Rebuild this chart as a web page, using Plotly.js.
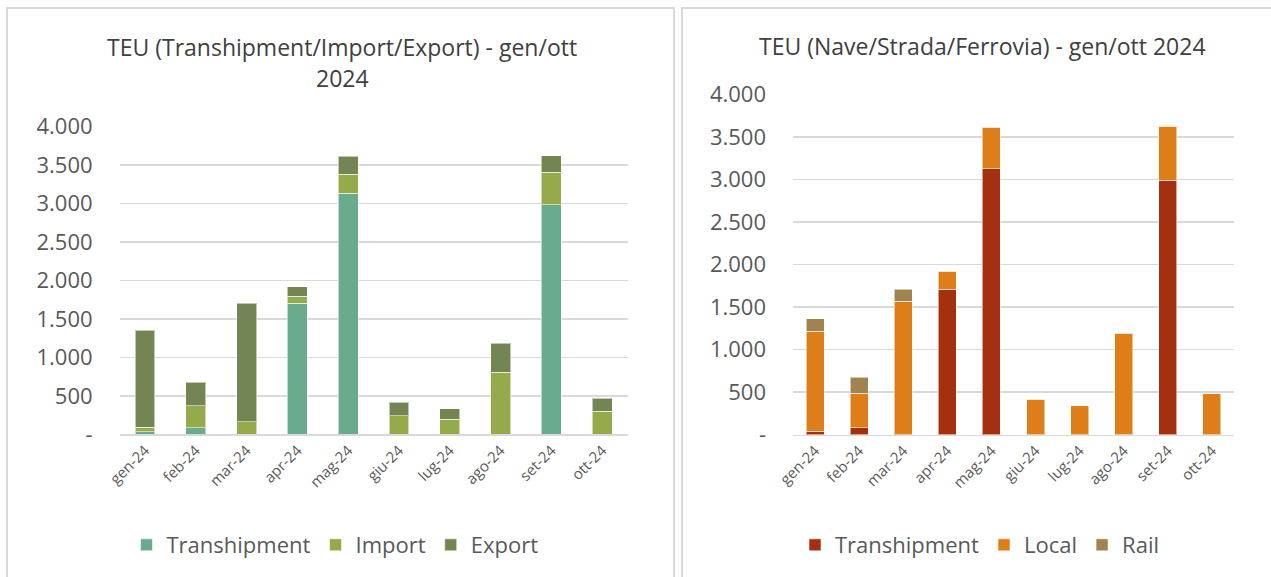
<!DOCTYPE html>
<html>
<head>
<meta charset="utf-8">
<script src="https://cdn.plot.ly/plotly-3.0.1.min.js"></script>
<style>
html,body{margin:0;padding:0;background:#fff;}
#chart{width:1271px;height:577px;}
</style>
</head>
<body>
<div id="chart"></div>
<script>
// ---- data ----
const months = ["gen-24","feb-24","mar-24","apr-24","mag-24","giu-24","lug-24","ago-24","set-24","ott-24"];

// Left chart: Transhipment / Import / Export
const leftTranshipment = [35, 87, 0, 1703, 3133, 0, 0, 0, 2985, 0];
const leftImport       = [56, 286, 160, 95, 247, 238, 195, 806, 421, 303];
const leftExport       = [1265, 303, 1547, 122, 234, 178, 139, 377, 216, 169];

// Right chart: Transhipment / Local / Rail
const rightTranshipment = [39, 82, 0, 1712, 3127, 0, 0, 0, 2989, 0];
const rightLocal        = [1179, 404, 1571, 212, 489, 419, 341, 1191, 639, 482];
const rightRail         = [142, 192, 137, 0, 0, 0, 0, 0, 0, 0];

const yTickVals = [0, 500, 1000, 1500, 2000, 2500, 3000, 3500, 4000];
const yTickText = ["-", "500", "1.000", "1.500", "2.000", "2.500", "3.000", "3.500", "4.000"];

const leftTitle1 = "TEU (Transhipment/Import/Export) - gen/ott";
const leftTitle2 = "2024";
const rightTitle = "TEU (Nave/Strada/Ferrovia) - gen/ott 2024";

// ---- layout helpers ----
const W = 1271, H = 577;
const px = x => x / W;
const py = y => 1 - y / H;
const FONT = "Open Sans, Noto Sans, sans-serif";
const GREY = "#595959";
const segLine = {color: "rgba(255,255,255,0.55)", width: 1};

function bar(name, y, color, xa, ya, legend, w) {
  return {
    type: "bar", name: name, x: months, y: y,
    xaxis: xa, yaxis: ya, legend: legend, width: w,
    marker: {color: color, line: segLine},
    hoverinfo: "x+y+name"
  };
}

const traces = [
  bar("Transhipment", leftTranshipment, "#6AAB8E", "x", "y", "legend", 0.39),
  bar("Import", leftImport, "#94AA4B", "x", "y", "legend", 0.39),
  bar("Export", leftExport, "#728552", "x", "y", "legend", 0.39),
  bar("Transhipment", rightTranshipment, "#A5300F", "x2", "y2", "legend2", 0.41),
  bar("Local", rightLocal, "#DE7E18", "x2", "y2", "legend2", 0.41),
  bar("Rail", rightRail, "#A0834F", "x2", "y2", "legend2", 0.41)
];

function xAxis(d0, d1, anchor) {
  return {
    domain: [px(d0), px(d1)], anchor: anchor,
    type: "category", tickangle: -45,
    tickfont: {family: FONT, size: 15, color: GREY},
    showgrid: false, zeroline: false, showline: true,
    linecolor: "#d9d9d9", linewidth: 1.5,
    ticks: "", fixedrange: true
  };
}
function yAxis(top, bottom, anchor) {
  return {
    domain: [py(bottom), py(top)], anchor: anchor,
    range: [0, 4001], tickmode: "array",
    tickvals: yTickVals, ticktext: yTickText,
    tickfont: {family: FONT, size: 22, color: GREY},
    showgrid: true, gridcolor: "#d9d9d9", gridwidth: 1.5,
    zeroline: false, showline: false, ticks: "",
    ticklabelstandoff: 26, fixedrange: true
  };
}

const legendFont = {family: FONT, size: 22, color: GREY};

const layout = {
  width: W, height: H,
  margin: {l: 0, r: 0, t: 0, b: 0},
  paper_bgcolor: "#ffffff", plot_bgcolor: "#ffffff",
  barmode: "stack",
  font: {family: FONT, color: GREY},
  xaxis: xAxis(119.6, 627.6, "y"),
  yaxis: yAxis(126.7, 434.3, "x"),
  xaxis2: xAxis(793, 1234, "y2"),
  yaxis2: yAxis(94.3, 434.7, "x2"),
  legend: {
    orientation: "h", x: px(126.5), y: py(545), xanchor: "left", yanchor: "middle",
    font: legendFont, itemwidth: 30, traceorder: "normal",
    bgcolor: "rgba(0,0,0,0)"
  },
  legend2: {
    orientation: "h", x: px(795), y: py(545), xanchor: "left", yanchor: "middle",
    font: legendFont, itemwidth: 30, traceorder: "normal",
    bgcolor: "rgba(0,0,0,0)"
  },
  annotations: [
    {text: leftTitle1, x: px(342), y: py(47), xref: "paper", yref: "paper",
     showarrow: false, xanchor: "center", yanchor: "middle",
     font: {family: FONT, size: 23, color: "#404040"}},
    {text: leftTitle2, x: px(342), y: py(78), xref: "paper", yref: "paper",
     showarrow: false, xanchor: "center", yanchor: "middle",
     font: {family: FONT, size: 23, color: "#404040"}},
    {text: rightTitle, x: px(982), y: py(46), xref: "paper", yref: "paper",
     showarrow: false, xanchor: "center", yanchor: "middle",
     font: {family: FONT, size: 23, color: "#404040"}}
  ],
  shapes: [
    {type: "rect", xref: "paper", yref: "paper", layer: "below",
     x0: px(7), x1: px(674), y0: py(620), y1: py(8),
     line: {color: "#d9d9d9", width: 2}, fillcolor: "rgba(0,0,0,0)"},
    {type: "rect", xref: "paper", yref: "paper", layer: "below",
     x0: px(682), x1: px(1290), y0: py(620), y1: py(8),
     line: {color: "#d9d9d9", width: 2}, fillcolor: "rgba(0,0,0,0)"}
  ]
};

Plotly.newPlot("chart", traces, layout, {displayModeBar: false, staticPlot: true});
</script>
</body>
</html>
